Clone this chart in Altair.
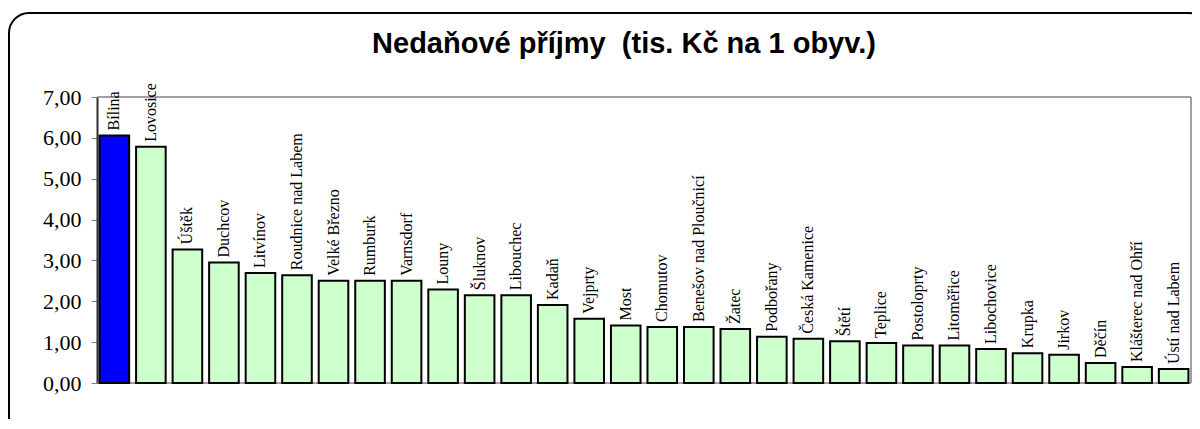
import altair as alt
import pandas as pd

cities = ["Bílina", "Lovosice", "Úštěk", "Duchcov", "Litvínov", "Roudnice nad Labem",
          "Velké Březno", "Rumburk", "Varnsdorf", "Louny", "Šluknov", "Libouchec",
          "Kadaň", "Vejprty", "Most", "Chomutov", "Benešov nad Ploučnicí", "Žatec",
          "Podbořany", "Česká Kamenice", "Štětí", "Teplice", "Postoloprty", "Litoměřice",
          "Libochovice", "Krupka", "Jirkov", "Děčín", "Klášterec nad Ohří", "Ústí nad Labem"]
values = [6.06, 5.78, 3.27, 2.95, 2.69, 2.64, 2.50, 2.50, 2.50, 2.29, 2.15, 2.15,
          1.91, 1.57, 1.41, 1.37, 1.37, 1.32, 1.13, 1.08, 1.02, 0.98, 0.92, 0.92,
          0.83, 0.73, 0.69, 0.49, 0.39, 0.34]
y_ticks = [0, 1, 2, 3, 4, 5, 6, 7]
y_max = 7
title_text = ["Nedaňové příjmy\u00a0\u00a0(tis. Kč na 1 obyv.)"]
highlight = "Bílina"

df = pd.DataFrame({"mesto": cities, "hodnota": values})

W, H = 1094, 286
GRAY = "#808080"

x_enc = alt.X("mesto:N", sort=cities, axis=None,
              scale=alt.Scale(paddingInner=0.19, paddingOuter=0.07))
y_scale = alt.Scale(domain=[0, y_max], nice=False)

y_axis = alt.Axis(values=y_ticks, grid=False,
                  labelExpr="replace(format(datum.value, '.2f'), '.', ',')",
                  labelFont="Liberation Serif", labelFontSize=22,
                  labelColor="black", labelPadding=10,
                  tickColor=GRAY, tickSize=6, tickWidth=1,
                  domainColor="#303030", domainWidth=2)

frame_df = pd.DataFrame({"yv": [y_max, 0]})

border = alt.Chart(pd.DataFrame({"a": [0]})).mark_rect(
    fill="transparent", stroke="black", strokeWidth=2, cornerRadius=20
).encode(x=alt.value(-88), x2=alt.value(1112), y=alt.value(-84), y2=alt.value(340))

# horizontal frame lines at the top (7) and bottom (0) of the value scale
frame_h = alt.Chart(frame_df).mark_rule(color=GRAY, strokeWidth=1.5).encode(
    y=alt.Y("yv:Q", scale=y_scale, title=None, axis=y_axis),
    x=alt.value(0), x2=alt.value(W))
# right vertical frame line
frame_v = alt.Chart(pd.DataFrame({"lo": [0], "hi": [y_max]})).mark_rule(
    color=GRAY, strokeWidth=1.5).encode(
    y=alt.Y("lo:Q", scale=y_scale, title=None, axis=y_axis), y2="hi:Q", x=alt.value(W))

title = alt.Chart(pd.DataFrame({"t": title_text})).mark_text(
    font="Liberation Sans", fontSize=29, fontWeight="bold", color="black",
    align="center", baseline="alphabetic"
).encode(x=alt.value(527), y=alt.value(-44), text="t:N")

bars = alt.Chart(df).mark_bar(stroke="black", strokeWidth=2).encode(
    x=x_enc,
    y=alt.Y("hodnota:Q", scale=y_scale, title=None, axis=y_axis),
    color=alt.condition(alt.datum.mesto == highlight, alt.value("#0000FF"), alt.value("#CCFFCC")),
)

labels = alt.Chart(df).mark_text(
    angle=270, align="left", baseline="middle", dx=5,
    font="Liberation Serif", fontSize=16, color="black"
).encode(
    x=x_enc,
    y=alt.Y("hodnota:Q", scale=y_scale, title=None, axis=y_axis),
    text="mesto:N",
)

chart = alt.layer(border, frame_h, frame_v, title, bars, labels).properties(
    width=W, height=H,
    autosize=alt.AutoSizeParams(type="none"),
    padding={"left": 89, "top": 89, "right": 1, "bottom": 36},
).configure_view(stroke=None)

chart.save("out.html", embed_options={"renderer": "svg", "actions": False})
